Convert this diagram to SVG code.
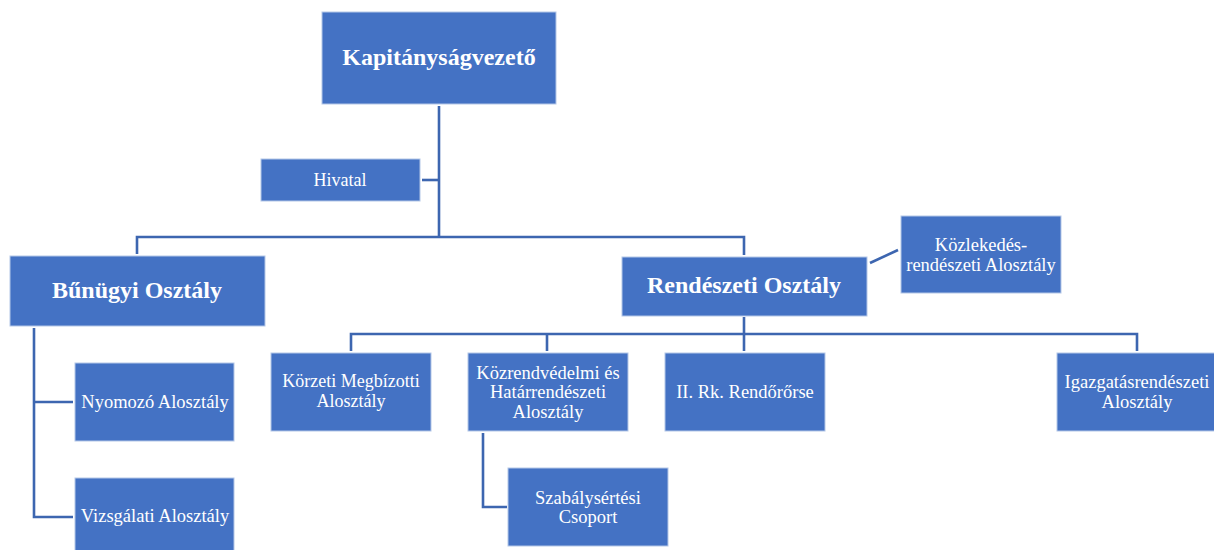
<svg xmlns="http://www.w3.org/2000/svg" width="1214" height="550" viewBox="0 0 1214 550">
<style>
.box{fill:#4472C4;stroke:#B4C7E7;stroke-width:1}
.t{font-family:"Liberation Serif","Times New Roman",serif;font-size:18.5px;fill:#FFFFFF;text-anchor:middle}
.s{font-size:18px}
.b{font-family:"Liberation Serif","Times New Roman",serif;font-size:24px;font-weight:bold;fill:#FFFFFF;text-anchor:middle}
.c{fill:none;stroke:#3D66B0;stroke-width:2.6}
</style>
<rect width="1214" height="550" fill="#FFFFFF"/>
<g id="connectors">
<path class="c" d="M439 106V237"/>
<path class="c" d="M422 180H439"/>
<path class="c" d="M137 254V237H744V255"/>
<path class="c" d="M870 263L898 250"/>
<path class="c" d="M34 328V517H73M34 402H73"/>
<path class="c" d="M744 317V351"/>
<path class="c" d="M351 351V334H1137V351"/>
<path class="c" d="M547 334V351"/>
<path class="c" d="M483 433V507H507"/>
</g>
<g id="kapitanysagvezeto"><rect class="box" x="322" y="12" width="234" height="92"/><text class="b" x="439" y="65">Kapitányságvezető</text></g>
<g id="hivatal"><rect class="box" x="261" y="159" width="159" height="42"/><text class="t s" x="340" y="186">Hivatal</text></g>
<g id="bunugyi"><rect class="box" x="10" y="256" width="255" height="70"/><text class="b" x="137" y="298">Bűnügyi Osztály</text></g>
<g id="rendeszeti"><rect class="box" x="622" y="257" width="245" height="59"/><text class="b" x="744" y="293">Rendészeti Osztály</text></g>
<g id="kozlekedes"><rect class="box" x="901" y="216" width="160" height="77"/><text class="t" x="981" y="251">Közlekedés-</text><text class="t" x="981" y="271">rendészeti Alosztály</text></g>
<g id="nyomozo"><rect class="box" x="75" y="363" width="159" height="78"/><text class="t" x="155" y="408">Nyomozó Alosztály</text></g>
<g id="vizsgalati"><rect class="box" x="75" y="478" width="159" height="78"/><text class="t" x="155" y="522">Vizsgálati Alosztály</text></g>
<g id="korzeti"><rect class="box" x="271" y="353" width="160" height="78"/><text class="t s" x="351" y="387">Körzeti Megbízotti</text><text class="t s" x="351" y="407">Alosztály</text></g>
<g id="kozrendvedelmi"><rect class="box" x="468" y="353" width="160" height="78"/><text class="t" x="548" y="378.5">Közrendvédelmi és</text><text class="t" x="548" y="398">Határrendészeti</text><text class="t" x="548" y="417.5">Alosztály</text></g>
<g id="rendororse"><rect class="box" x="665" y="353" width="160" height="78"/><text class="t" x="745" y="398">II. Rk. Rendőrőrse</text></g>
<g id="igazgatas"><rect class="box" x="1057" y="353" width="160" height="78"/><text class="t" x="1137" y="388">Igazgatásrendészeti</text><text class="t" x="1137" y="408">Alosztály</text></g>
<g id="szabalysertesi"><rect class="box" x="508" y="468" width="160" height="78"/><text class="t" x="588" y="504">Szabálysértési</text><text class="t" x="588" y="523">Csoport</text></g>
</svg>
